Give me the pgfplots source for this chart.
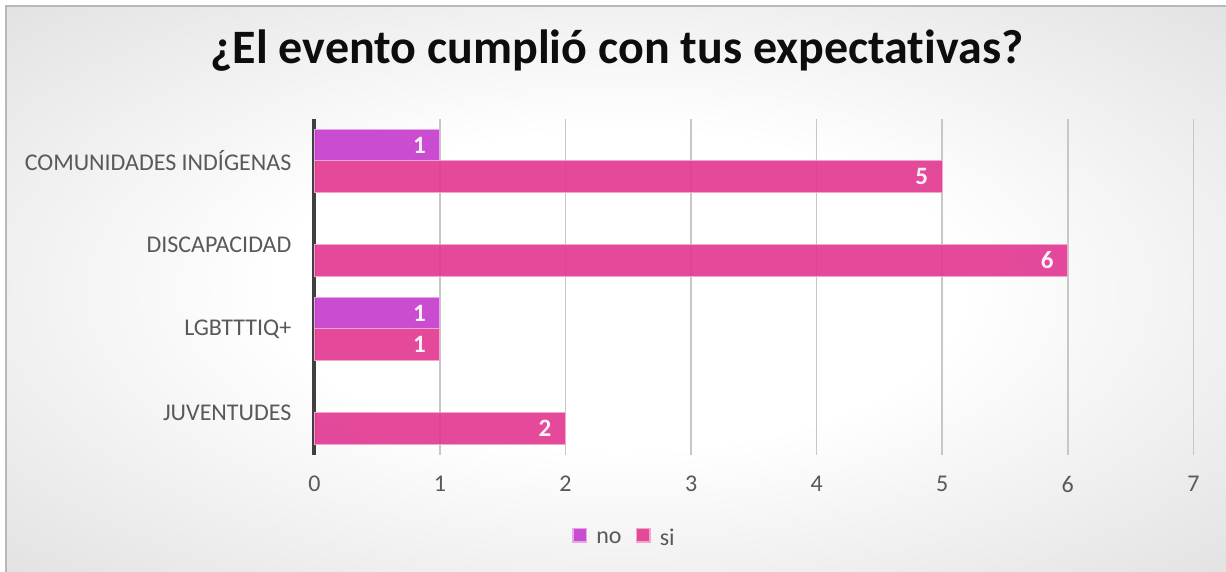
\documentclass[border=0pt]{standalone}
\usepackage{pgfplots}
\pgfplotsset{compat=1.18}
\usepackage{fontspec}
\setmainfont{Carlito}[Ligatures=NoCommon]
\definecolor{nocol}{RGB}{198,62,206}
\definecolor{sicol}{RGB}{226,58,146}
\definecolor{labcol}{RGB}{89,89,89}
\definecolor{axcol}{RGB}{64,64,64}
\pgfdeclareradialshading{bgshade}{\pgfpoint{0bp}{0bp}}{color(0bp)=(white); color(14bp)=(white); color(50bp)=(black!19); color(72bp)=(black!25)}
\begin{document}
\begin{tikzpicture}
\path[use as bounding box] (-157.2pt,-58.5pt) rectangle (455.8pt,227.5pt);
\shade[shading=bgshade, draw=black!28, line width=0.6pt] (-154.2pt,-60pt) rectangle (458pt,224.5pt);
\node[font=\fontsize{24}{26}\selectfont\bfseries, text=black!95, anchor=base] at (151.3pt,195.5pt) {¿El evento cumplió con tus expectativas?};
\begin{axis}[
  at={(0pt,0pt)}, anchor=south west, scale only axis,
  width=439.5pt, height=168pt,
  xmin=0, xmax=7, ymin=-0.5, ymax=3.5,
  xtick={0,1,2,3,4,5,6,7},
  ytick={0,1,2,3},
  yticklabels={JUVENTUDES, LGBTTTIQ+, DISCAPACIDAD, COMUNIDADES INDÍGENAS},
  /pgf/number format/assume math mode=true,
  axis x line=bottom, axis y line=left,
  x axis line style={draw=none},
  y axis line style={-, line width=2pt, color=axcol},
  xmajorgrids, grid style={line width=0.8pt, color=black!22},
  major tick length=0pt,
  tick style={draw=none},
  xticklabel style={font=\fontsize{12}{14}\selectfont, text=labcol, yshift=-7pt},
  yticklabel style={font=\fontsize{12}{14}\selectfont, text=labcol, xshift=-8pt},
  xbar, bar width=0.37,
  nodes near coords,
  every node near coord/.append style={anchor=east, xshift=-3.5pt, text=white, font=\fontsize{12.5}{14}\selectfont\bfseries},
  legend style={at={(155.5pt,-42pt)}, anchor=center, draw=none, fill=none, legend columns=2,
    font=\fontsize{12}{14}\selectfont, text=labcol,
    /tikz/every odd column/.append style={column sep=2.5pt},
    /tikz/every even column/.append style={column sep=5pt}},
  legend image code/.code={\draw[#1, line width=0.8pt] (0pt,-1.5pt) rectangle (6.8pt,5.3pt);},
  clip=false,
]
\addplot[bar shift=0.185, fill=nocol, fill opacity=0.92, draw=nocol!45!white, line width=0.5pt]
  coordinates {(1,3) (1,1)};
\addplot[bar shift=-0.185, fill=sicol, fill opacity=0.92, draw=sicol!45!white, line width=0.5pt]
  coordinates {(5,3) (6,2) (1,1) (2,0)};
\legend{no, si}
\end{axis}
\end{tikzpicture}
\end{document}
